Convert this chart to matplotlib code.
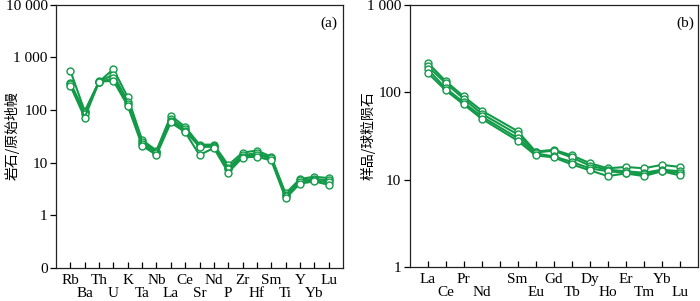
import numpy as np
import matplotlib
matplotlib.use("Agg")
import matplotlib.pyplot as plt
from matplotlib.ticker import FixedLocator, NullLocator

plt.rcParams['font.family'] = ['Liberation Serif', 'Noto Sans CJK SC']

# spider diagram, primitive mantle normalised
trace = ['Rb', 'Ba', 'Th', 'U', 'K', 'Ta', 'Nb', 'La', 'Ce', 'Sr',
         'Nd', 'P', 'Zr', 'Hf', 'Sm', 'Ti', 'Y', 'Yb', 'Lu']
pm1 = [560, 95, 345, 600, 175, 27, 17, 78, 48, 22, 22, 9.0, 15.5, 17, 13, 2.6, 4.9, 5.4, 5.1]
pm2 = [330, 90, 350, 470, 145, 25, 16, 68, 44, 21, 21, 8.0, 14, 15, 12.5, 2.4, 4.6, 4.9, 4.6]
pm3 = [310, 85, 340, 400, 130, 23, 15, 62, 40, 20, 20, 7.5, 13, 14, 12, 2.3, 4.3, 4.6, 4.2]
pm4 = [290, 72, 345, 360, 120, 21, 14, 58, 38, 14, 19, 6.5, 12.5, 13, 11, 2.1, 4.0, 4.4, 3.8]

# REE, chondrite normalised (no Pm)
ree_ticks = ['La', 'Ce', 'Pr', 'Nd', '', 'Sm', 'Eu', 'Gd', 'Tb', 'Dy',
             'Ho', 'Er', 'Tm', 'Yb', 'Lu']
ree_row = [0, 1, 0, 1, 0, 0, 1, 0, 1, 0, 1, 0, 1, 0, 1]
ree = ['La', 'Ce', 'Pr', 'Nd', 'Sm', 'Eu', 'Gd', 'Tb', 'Dy', 'Ho', 'Er', 'Tm', 'Yb', 'Lu']
ch1 = [220, 135, 90, 62, 36, 21, 22, 19, 15.5, 13.5, 14, 13.5, 14.8, 14]
ch2 = [200, 128, 85, 57, 33, 20.5, 21.5, 18, 14.5, 13, 12.5, 12, 13, 12.5]
ch3 = [185, 112, 77, 53, 30, 20, 18.5, 16, 13.5, 12.5, 12, 11.5, 12.5, 12]
ch4 = [168, 106, 73, 50, 28, 19, 18, 15, 12.8, 11, 11.8, 11, 12.5, 11.2]

green = '#129a48'
fs = 11

fig = plt.figure(figsize=(7.0, 3.01), dpi=100)
ax1 = fig.add_axes([0.080, 0.110, 0.410, 0.874])
ax2 = fig.add_axes([0.585, 0.113, 0.412, 0.870])


def style(ax):
    for s in ax.spines.values():
        s.set_linewidth(0.9)
        s.set_color('#222222')
    ax.tick_params(axis='y', direction='out', length=4, width=0.9, labelsize=fs, pad=2)
    ax.tick_params(axis='x', direction='in', length=4, width=0.9, labelsize=fs)
    ax.yaxis.set_minor_locator(NullLocator())


def stagger(ax, labels, rows):
    ax.set_xticks(np.arange(1, len(labels) + 1))
    ax.set_xticklabels([])
    for i, (lab, r) in enumerate(zip(labels, rows)):
        ax.text(i + 1, -0.048 - 0.048 * r, lab, transform=ax.get_xaxis_transform(),
                ha='center', va='center', fontsize=fs)


x1 = np.arange(1, len(trace) + 1)
for y in (pm1, pm2, pm3, pm4):
    ax1.plot(x1, y, color=green, lw=1.5, marker='o', ms=5, mfc='white', mec=green, mew=1.0)
ax1.set_yscale('log')
ax1.set_ylim(0.1, 10000)
ax1.set_xlim(0, len(trace) + 1)
ax1.yaxis.set_major_locator(FixedLocator([0.1, 1, 10, 100, 1000, 10000]))
ax1.set_yticklabels(['0', '1', '10', '100', '1 000', '10 000'])
style(ax1)
stagger(ax1, trace, [i % 2 for i in range(len(trace))])
fig.text(12 / 700, 1 - 136 / 301, '岩石/原始地幔', family=['Noto Sans CJK SC'],
         fontsize=10, rotation=90, ha='center', va='center')
ax1.text(0.95, 0.93, '(a)', transform=ax1.transAxes, ha='center', va='center', fontsize=fs)

x2 = [i + 1 for i, t in enumerate(ree_ticks) if t != '']
for y in (ch1, ch2, ch3, ch4):
    ax2.plot(x2, y, color=green, lw=1.5, marker='o', ms=5, mfc='white', mec=green, mew=1.0)
ax2.set_yscale('log')
ax2.set_ylim(1, 1000)
ax2.set_xlim(0, len(ree_ticks) + 1)
ax2.yaxis.set_major_locator(FixedLocator([1, 10, 100, 1000]))
ax2.set_yticklabels(['1', '10', '100', '1 000'])
style(ax2)
stagger(ax2, ree_ticks, ree_row)
fig.text(368 / 700, 1 - 136 / 301, '样品/球粒陨石', family=['Noto Sans CJK SC'],
         fontsize=10, rotation=90, ha='center', va='center')
ax2.text(0.955, 0.93, '(b)', transform=ax2.transAxes, ha='center', va='center', fontsize=fs)

fig.savefig('out.png', dpi=100)
